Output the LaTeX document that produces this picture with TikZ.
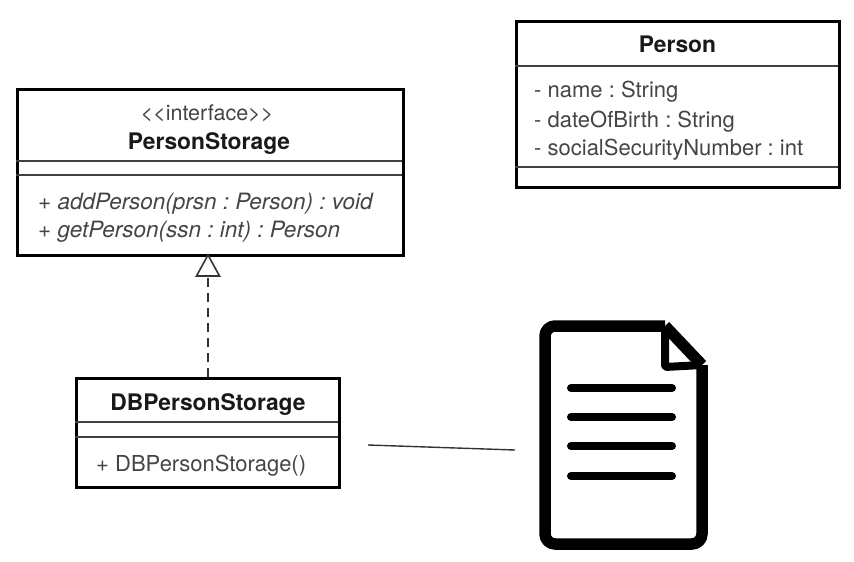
\documentclass[tikz,border=0pt]{standalone}
\usepackage{fontspec}
\setmainfont{TeX Gyre Heros}
\usetikzlibrary{calc}
\definecolor{txt}{gray}{0.27}
\tikzset{
  umlbox/.style={draw=black,line width=3.3pt,fill=white,rectangle,inner sep=0pt,anchor=north west},
  sep/.style={draw=black!75,line width=1.3pt},
  title/.style={font=\fontsize{22.8}{24}\selectfont\bfseries\frenchspacing,text=black!90,inner sep=0pt,anchor=base},
  stereo/.style={font=\fontsize{21.5}{24}\selectfont,text=txt,inner sep=0pt,anchor=base},
  member/.style={font=\fontsize{22}{24}\selectfont\frenchspacing,text=txt,inner sep=0pt,anchor=base west},
  imember/.style={member,font=\fontsize{22.5}{24}\selectfont\itshape\frenchspacing},
  docline/.style={line width=11.5pt,draw=black,line join=round},
  docrule/.style={line width=8pt,draw=black,line cap=round},
  assoc/.style={draw=black!80,line width=1.4pt},
  dashline/.style={draw=black!80,line width=1.4pt,dash pattern=on 9pt off 6pt},
  realize/.style={draw=black!80,line width=1.6pt,fill=white,line join=miter}
}
\begin{document}
\begin{tikzpicture}[x=1pt,y=-1pt]
\useasboundingbox (0,0) rectangle (854,562);
% Person
\node[umlbox,minimum width=323pt,minimum height=166pt] (person) at (515,20) {};
\coordinate (p1l) at (515,66); \coordinate (p1r) at (838,66);
\coordinate (p2l) at (515,167); \coordinate (p2r) at (838,167);
\draw[sep] (p1l) -- (p1r);
\draw[sep] (p2l) -- (p2r);
\node[title] (ptitle) at (677.5,52) {Person};
\node[member] (pm1) at (534,97) {- name : String};
\node[member] (pm2) at (534,127) {- dateOfBirth : String};
\node[member] (pm3) at (534,155) {- socialSecurityNumber : int};
% PersonStorage
\node[umlbox,minimum width=386pt,minimum height=166pt] (storage) at (16,88) {};
\coordinate (s1l) at (16,161); \coordinate (s1r) at (402,161);
\coordinate (s2l) at (16,175); \coordinate (s2r) at (402,175);
\draw[sep] (s1l) -- (s1r);
\draw[sep] (s2l) -- (s2r);
\node[stereo] (sster) at (207,120) {<{}<interface>{}>};
\node[title] (stitle) at (209,149) {PersonStorage};
\node[imember] (sm1) at (38,209) {+ addPerson(prsn : Person) : void};
\node[imember] (sm2) at (38,237) {+ getPerson(ssn : int) : Person};
% DBPersonStorage
\node[umlbox,minimum width=263pt,minimum height=109pt] (db) at (74.5,377) {};
\coordinate (d1l) at (74.5,422); \coordinate (d1r) at (337.5,422);
\coordinate (d2l) at (74.5,437); \coordinate (d2r) at (337.5,437);
\draw[sep] (d1l) -- (d1r);
\draw[sep] (d2l) -- (d2r);
\node[title] (dtitle) at (208,410) {DBPersonStorage};
\node[member] (dm1) at (96,471) {+ DBPersonStorage()};
% realization
\coordinate (tipa) at (208,255);
\coordinate (tipb) at (208,276);
\draw[dashline] (db.north -| tipb) -- (tipb);
\draw[realize] (tipa) -- (219.5,276) -- (196.5,276) -- cycle;
% document icon
\coordinate (a1) at (545,326);
\coordinate (a2) at (665,326);
\coordinate (a3) at (702,365);
\coordinate (a4) at (702,544);
\coordinate (a5) at (545,544);
\coordinate (af) at (665,367);
\draw[docline,rounded corners=10pt] (a3) -- (a4) -- (a5) -- (a1) -- (a2);
\draw[docline] (a2) -- (a3);
\draw[line width=8pt,line join=round,rounded corners=2pt] (a2) -- (af) -- (a3);
\coordinate (r1a) at (571,388); \coordinate (r1b) at (672,388);
\coordinate (r2a) at (571,417); \coordinate (r2b) at (672,417);
\coordinate (r3a) at (571,446); \coordinate (r3b) at (672,446);
\coordinate (r4a) at (571,476); \coordinate (r4b) at (672,476);
\draw[docrule] (r1a) -- (r1b);
\draw[docrule] (r2a) -- (r2b);
\draw[docrule] (r3a) -- (r3b);
\draw[docrule] (r4a) -- (r4b);
% association
\coordinate (cs) at (368,445);
\coordinate (ce) at (515,450);
\draw[assoc] (cs) -- (ce);
\end{tikzpicture}
\end{document}
